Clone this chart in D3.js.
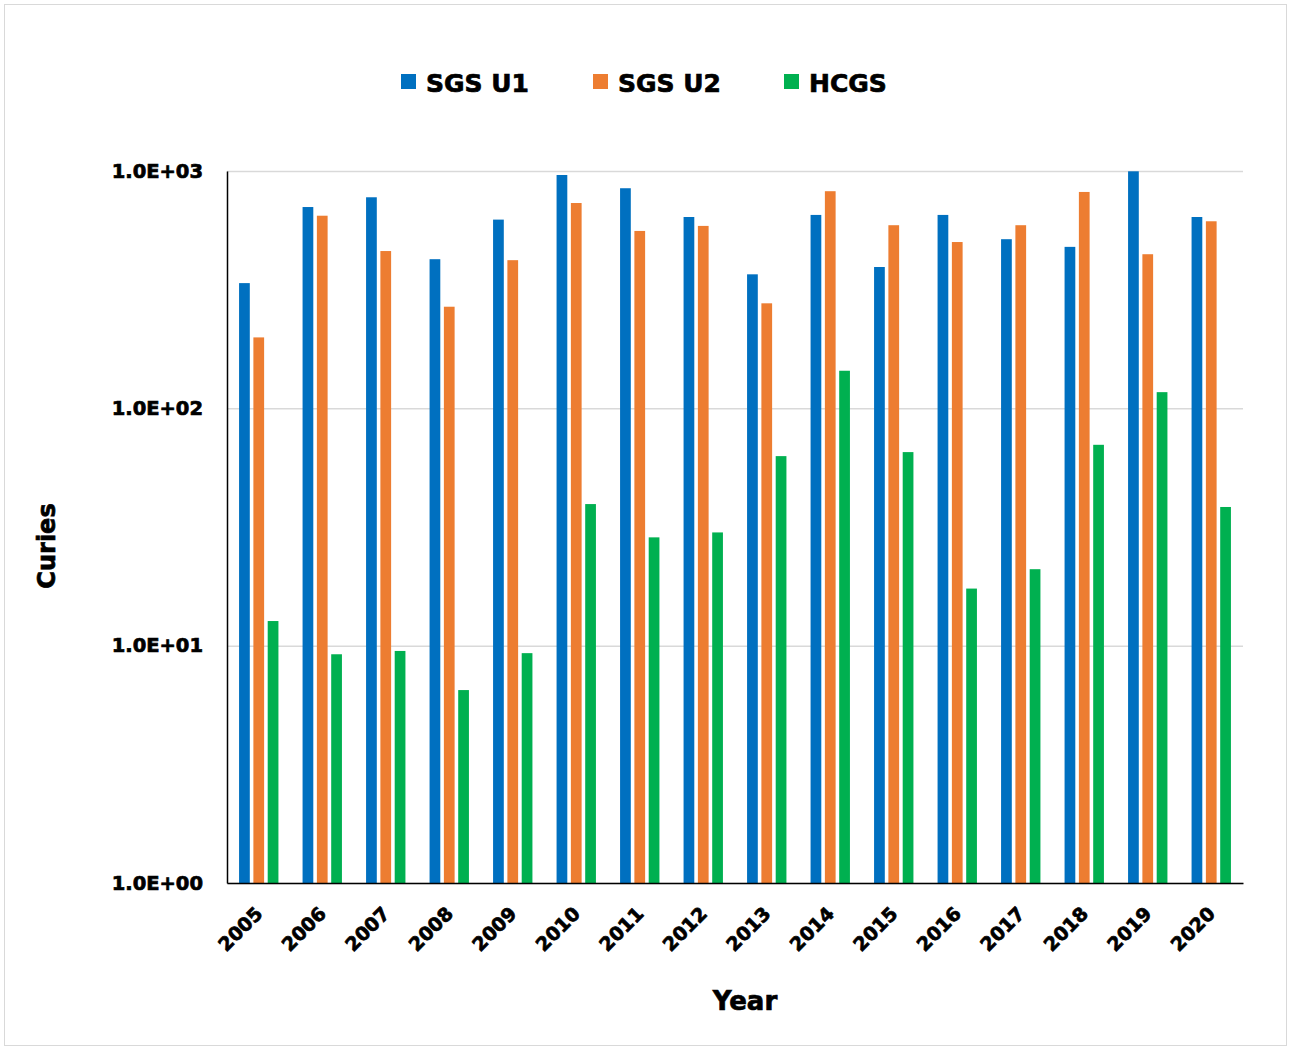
<!DOCTYPE html>
<html>
<head>
<meta charset="utf-8">
<script src="https://cdn.jsdelivr.net/npm/d3@7"></script>
<style>
    body { margin: 0; background: #fff; }
    svg text { font-family: "DejaVu Sans", Arial, sans-serif; font-weight: bold; fill: #000; stroke: #000; stroke-width: 0.7px; }
</style>
</head>
<body>
<div id="chart"></div>
<script>
// data
const years = ['2005', '2006', '2007', '2008', '2009', '2010', '2011', '2012',
               '2013', '2014', '2015', '2016', '2017', '2018', '2019', '2020'];
const seriesNames = ['SGS U1', 'SGS U2', 'HCGS'];
const sgsU1 = [337, 705, 775, 425, 624, 962, 846, 640, 367, 653, 394, 653, 516, 479, 997, 640];
const sgsU2 = [199, 648, 460, 268, 421, 733, 559, 587, 277, 822, 591, 502, 591, 816, 446, 614];
const hcgs  = [12.7, 9.2, 9.5, 6.5, 9.3, 39.5, 28.6, 30.0, 62.9, 144, 65.4, 17.4, 21.0, 70.2, 117, 38.4];
const yTicks = [1, 10, 100, 1000];
const colors = ['#0070C0', '#ED7D31', '#00B050'];

const width = 1289;
const height = 1048;
const plot = { left: 227, right: 1243, top: 171, bottom: 883 };

const seriesValues = [sgsU1, sgsU2, hcgs];
const rows = years.map((yr, i) => ({
    year: yr,
    values: seriesNames.map((name, j) => ({ key: name, value: seriesValues[j][i] }))
}));

const svg = d3.select("#chart")
    .append("svg")
    .attr("width", width)
    .attr("height", height);

// outer frame
svg.append("rect")
    .attr("x", 4.5).attr("y", 4.5)
    .attr("width", 1282).attr("height", 1041)
    .attr("fill", "#fff")
    .attr("stroke", "#d9d9d9")
    .attr("stroke-width", 1);

const x0 = d3.scaleBand()
    .domain(years)
    .range([plot.left, plot.right])
    .paddingInner(0.38)
    .paddingOuter(0.19);

const x1 = d3.scaleBand()
    .domain(seriesNames)
    .range([0, x0.bandwidth()])
    .paddingInner(0.25);

const y = d3.scaleLog()
    .domain([1, 1000])
    .range([plot.bottom, plot.top]);

// gridlines
svg.append("g")
    .attr("transform", `translate(${plot.left},0)`)
    .call(d3.axisLeft(y).tickValues(yTicks).tickSize(-(plot.right - plot.left)).tickFormat(""))
    .call(g => g.select(".domain").remove())
    .call(g => g.selectAll(".tick line").attr("stroke", "#d9d9d9").attr("stroke-width", 1.5));

// bars
svg.append("g")
    .selectAll("g")
    .data(rows)
    .enter().append("g")
    .attr("transform", d => `translate(${x0(d.year)},0)`)
    .selectAll("rect")
    .data(d => d.values)
    .enter().append("rect")
    .attr("x", d => x1(d.key))
    .attr("width", x1.bandwidth())
    .attr("y", d => y(d.value))
    .attr("height", d => y(1) - y(d.value))
    .attr("fill", (d, i) => colors[i]);

// y axis
const yAxis = svg.append("g")
    .attr("transform", `translate(${plot.left},0)`)
    .call(d3.axisLeft(y)
        .tickValues(yTicks)
        .tickSize(0)
        .tickPadding(24)
        .tickFormat(d => "1.0E+" + String(Math.round(Math.log10(d))).padStart(2, "0")));
yAxis.select(".domain").attr("stroke", "#000").attr("stroke-width", 1.5);
yAxis.selectAll("text").style("font-size", "19.5px").attr("fill", "#000");

// x axis
const xAxis = svg.append("g")
    .attr("transform", `translate(0,${plot.bottom})`)
    .call(d3.axisBottom(x0).tickSize(0).tickSizeOuter(0));
xAxis.select(".domain").attr("stroke", "#000").attr("stroke-width", 1.5);
xAxis.selectAll("text")
    .style("font-size", "19px")
    .attr("fill", "#000")
    .attr("text-anchor", "end")
    .attr("dy", null)
    .attr("y", null)
    .attr("transform", "translate(5,32) rotate(-45)");

// axis titles
svg.append("text")
    .attr("transform", "translate(55,546) rotate(-90)")
    .attr("text-anchor", "middle")
    .style("font-size", "24px")
    .text("Curies");

svg.append("text")
    .attr("x", 745)
    .attr("y", 1010)
    .attr("text-anchor", "middle")
    .style("font-size", "26px")
    .text("Year");

// legend
const legendX = [401, 593, 784];
const legend = svg.append("g")
    .selectAll("g")
    .data(seriesNames)
    .enter().append("g")
    .attr("transform", (d, i) => `translate(${legendX[i]},74)`);

legend.append("rect")
    .attr("width", 15)
    .attr("height", 15)
    .attr("fill", (d, i) => colors[i]);

legend.append("text")
    .attr("x", 25)
    .attr("y", 18)
    .style("font-size", "25px")
    .text(d => d);
</script>
</body>
</html>
